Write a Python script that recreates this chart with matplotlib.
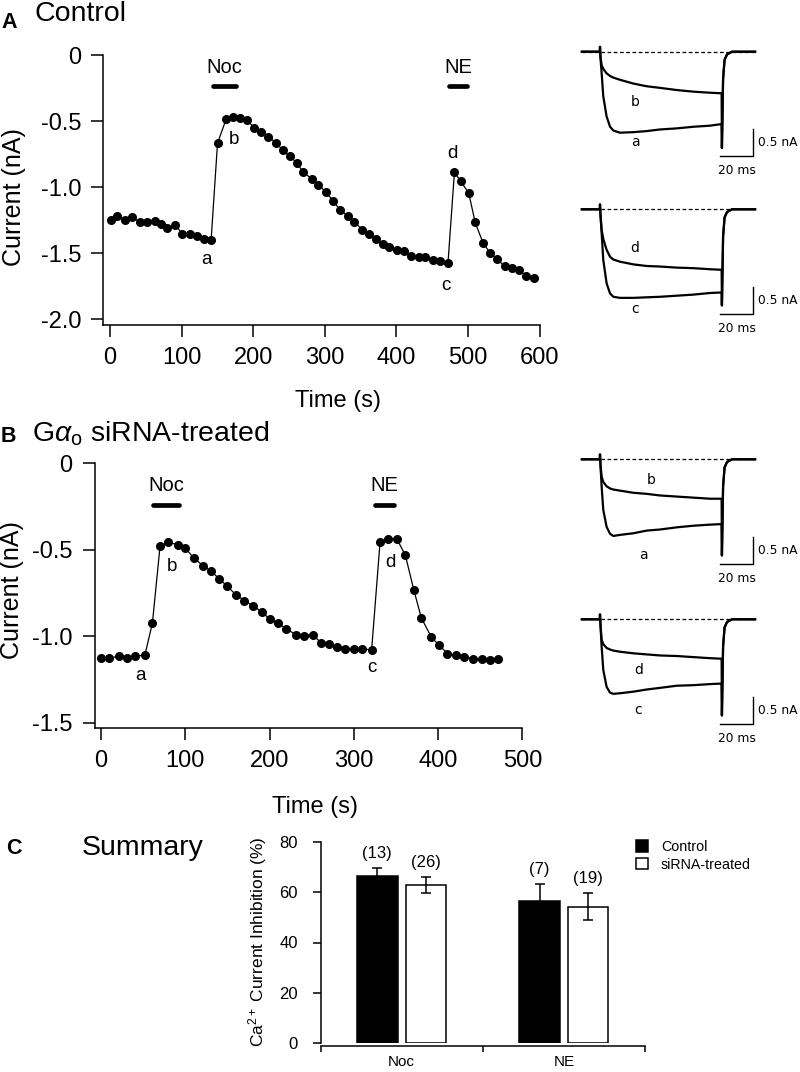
import numpy as np
import matplotlib
matplotlib.use('Agg')
import matplotlib.pyplot as plt

plt.rcParams['font.family'] = ['Liberation Sans', 'DejaVu Sans']
plt.rcParams['axes.unicode_minus'] = False
plt.rcParams['mathtext.fontset'] = 'custom'
plt.rcParams['mathtext.rm'] = 'Liberation Sans'
plt.rcParams['mathtext.it'] = 'Liberation Sans:italic'

# ── time course data (s, nA) ────────────────────────────────
ctrl_t = [1, 10, 21, 30, 41, 51, 62, 71, 80, 91, 101, 112, 121, 131, 141,
          150, 162, 171, 181, 191, 201, 211, 221, 232, 241, 251, 261, 270,
          282, 291, 302, 312, 321, 332, 341, 352, 361, 371, 381, 390, 401,
          411, 421, 431, 440, 451, 461, 472,
          481, 490, 501, 510, 521, 531, 541, 551, 561, 571, 581, 592]
ctrl_i = [-1.247, -1.217, -1.247, -1.229, -1.26, -1.26, -1.254, -1.28, -1.31,
          -1.285, -1.355, -1.355, -1.368, -1.39, -1.403,
          -0.667, -0.486, -0.466, -0.474, -0.491, -0.549, -0.584, -0.617,
          -0.667, -0.718, -0.763, -0.819, -0.889, -0.937, -0.982, -1.04,
          -1.108, -1.171, -1.217, -1.26, -1.322, -1.355, -1.39, -1.431,
          -1.456, -1.474, -1.486, -1.524, -1.532, -1.532, -1.549, -1.557,
          -1.574,
          -0.887, -0.957, -1.045, -1.267, -1.423, -1.499, -1.544, -1.6,
          -1.612, -1.625, -1.67, -1.688]

sirna_t = [0, 10, 21, 31, 40, 52, 61, 70, 80, 91, 100, 110, 121, 130, 140,
           150, 160, 170, 180, 191, 200, 210, 220, 231, 241, 251, 261, 270,
           280, 290, 300, 310, 321, 331, 341, 351, 361, 371, 380, 392, 401,
           411, 421, 431, 441, 452, 461, 471]
sirna_i = [-1.127, -1.127, -1.115, -1.127, -1.115, -1.11, -0.923, -0.481,
           -0.456, -0.471, -0.49, -0.548, -0.592, -0.621, -0.667, -0.712,
           -0.76, -0.794, -0.823, -0.86, -0.9, -0.923, -0.958, -0.99, -0.996,
           -0.99, -1.038, -1.044, -1.062, -1.071, -1.071, -1.071, -1.081,
           -0.456, -0.438, -0.438, -0.531, -0.731, -0.894, -1.006, -1.052,
           -1.1, -1.11, -1.119, -1.129, -1.129, -1.138, -1.129]

ctrl_yticks = [0, -0.5, -1.0, -1.5, -2.0]
ctrl_ylabels = ['0', '-0.5', '-1.0', '-1.5', '-2.0']
ctrl_xticks = [0, 100, 200, 300, 400, 500, 600]
sirna_yticks = [0, -0.5, -1.0, -1.5]
sirna_ylabels = ['0', '-0.5', '-1.0', '-1.5']
sirna_xticks = [0, 100, 200, 300, 400, 500]

# drug application windows (s)
ctrl_noc = (143, 176)
ctrl_ne = (474, 498)
sirna_noc = (62, 92)
sirna_ne = (325, 348)

# ── example current traces (ms, nA) ─────────────────────────
trace_t = [0.3, 1.0, 2.0, 4.0, 6.1, 8.1, 12.1, 20.2, 28.3, 36.4, 46.5, 56.6, 66.7, 73.7]
ctrl_a = [-0.12, -0.40, -0.83, -1.20, -1.39, -1.46, -1.50, -1.49, -1.47, -1.44, -1.42, -1.39, -1.37, -1.34]
ctrl_b = [-0.10, -0.25, -0.32, -0.40, -0.45, -0.48, -0.52, -0.59, -0.64, -0.67, -0.71, -0.74, -0.76, -0.77]
ctrl_c = [-0.12, -0.44, -0.94, -1.37, -1.56, -1.62, -1.64, -1.64, -1.63, -1.62, -1.60, -1.58, -1.55, -1.54]
ctrl_d = [-0.10, -0.38, -0.55, -0.75, -0.88, -0.93, -0.97, -1.02, -1.05, -1.06, -1.08, -1.09, -1.11, -1.12]
sirna_a = [-0.12, -0.51, -0.94, -1.25, -1.38, -1.42, -1.40, -1.37, -1.32, -1.30, -1.26, -1.23, -1.21, -1.20]
sirna_b = [-0.10, -0.32, -0.42, -0.50, -0.54, -0.56, -0.58, -0.62, -0.64, -0.67, -0.69, -0.71, -0.73, -0.73]
sirna_c = [-0.12, -0.51, -0.94, -1.25, -1.36, -1.38, -1.37, -1.34, -1.30, -1.27, -1.23, -1.22, -1.20, -1.19]
sirna_d = [-0.10, -0.38, -0.46, -0.53, -0.56, -0.58, -0.60, -0.63, -0.65, -0.67, -0.68, -0.70, -0.72, -0.73]
pre_t, pre_i = [-11, -0.1, 0], [0, 0, 0.09]
tail_t = [73.9, 74.6, 75.5, 77, 80, 94]
tail_i = [-1.78, -0.5, -0.15, -0.05, 0, 0]

# ── summary data ────────────────────────────────────────────
drugs = ['Noc', 'NE']
ctrl_mean = [66.5, 56.6]
ctrl_sem = [3.1, 6.6]
ctrl_n = [13, 7]
sirna_mean = [62.8, 54.2]
sirna_sem = [3.2, 5.4]
sirna_n = [26, 19]

W, H = 800, 1072
fig = plt.figure(figsize=(W / 100, H / 100), dpi=100)


def box(left, top, right, bottom):
    return [left / W, 1 - bottom / H, (right - left) / W, (bottom - top) / H]


def ftext(x, y, s, **kw):
    fig.text(x / W, 1 - y / H, s, **kw)


def time_course(rect, t, cur, xlim, ylim, xticks, yticks, ylabels):
    ax = fig.add_axes(box(*rect))
    ax.plot(t, cur, color='k', lw=0.9, marker='o', ms=5.5, zorder=3, clip_on=False)
    ax.set_xlim(*xlim)
    ax.set_ylim(*ylim)
    ax.set_xticks(xticks)
    ax.set_yticks(yticks)
    ax.set_yticklabels(ylabels)
    for s in ['top', 'right']:
        ax.spines[s].set_visible(False)
    for s in ['left', 'bottom']:
        ax.spines[s].set_linewidth(1.1)
    ax.tick_params(direction='out', length=8.3, width=1.1, labelsize=17, pad=7.5)
    return ax


def drug_bar(ax, span, y_bar, y_txt, name):
    ax.plot(span, [y_bar, y_bar], color='k', lw=3.4, solid_capstyle='round')
    ax.text(sum(span) / 2, y_txt, name, ha='center', va='center', fontsize=14.5)


def trace_panel(x0, base, traces, labels):
    px_ms, px_na = 1.65, 54.0
    ax = fig.add_axes(box(x0 - 12 * px_ms, base - 0.3 * px_na,
                          x0 + 118 * px_ms, base + 2.45 * px_na))
    ax.set_xlim(-12, 118)
    ax.set_ylim(-2.45, 0.3)
    ax.axis('off')
    ax.plot([-11, 94], [0, 0], color='k', lw=0.9, ls=(0, (3, 2)))
    for cur in traces:
        ax.plot(pre_t + trace_t + tail_t, pre_i + cur + tail_i,
                color='k', lw=1.6, solid_joinstyle='round')
    for (s, tx, ty) in labels:
        ax.text(tx, ty, s, ha='center', va='center', fontsize=10,
                family='DejaVu Sans')
    # scale bar: 20 ms x 0.5 nA
    ax.plot([73, 93, 93], [-1.93, -1.93, -1.43], color='k', lw=1.0)
    ax.text(96, -1.68, '0.5 nA', ha='left', va='center', fontsize=8.8,
            family='DejaVu Sans')
    ax.text(83, -2.2, '20 ms', ha='center', va='center', fontsize=8.8,
            family='DejaVu Sans')


# ── A: control ──────────────────────────────────────────────
axA = time_course((103.3, 55, 539.6, 324.6), ctrl_t, ctrl_i, (-9.6, 600),
                  (-2.04, 0), ctrl_xticks, ctrl_yticks, ctrl_ylabels)
drug_bar(axA, ctrl_noc, -0.232, -0.096, 'Noc')
drug_bar(axA, ctrl_ne, -0.232, -0.096, 'NE')
for s, tx, ty in [('a', 134, -1.546), ('b', 173, -0.643),
                  ('c', 469, -1.747), ('d', 478.6, -0.744)]:
    axA.text(tx, ty, s, ha='center', va='center', fontsize=13.5)
ftext(1, 28.5, 'A', fontsize=15.5, fontweight='bold', va='baseline')
ftext(34, 21, 'Control', fontsize=20.5, va='baseline')
ftext(14, 197, 'Current (nA)', fontsize=18, rotation=90, ha='center', va='center')
ftext(338, 401, 'Time (s)', fontsize=17, ha='center', va='center')

trace_panel(600, 51.7, [ctrl_a, ctrl_b], [('b', 21.2, -0.93), ('a', 21.2, -1.67)])
trace_panel(600, 209.3, [ctrl_c, ctrl_d], [('d', 21.2, -0.72), ('c', 21.2, -1.85)])

# ── B: Gao siRNA ────────────────────────────────────────────
axB = time_course((94.6, 463.3, 522.5, 727.9), sirna_t, sirna_i, (-7.6, 500),
                  (-1.53, 0), sirna_xticks, sirna_yticks, sirna_ylabels)
drug_bar(axB, sirna_noc, -0.243, -0.131, 'Noc')
drug_bar(axB, sirna_ne, -0.243, -0.131, 'NE')
for s, tx, ty in [('a', 47, -1.227), ('b', 84, -0.596),
                  ('c', 321, -1.183), ('d', 343, -0.573)]:
    axB.text(tx, ty, s, ha='center', va='center', fontsize=13.5)
ftext(1, 442, 'B', fontsize=15.5, fontweight='bold', va='baseline')
ftext(32, 442, r'G$\alpha_{\mathregular{o}}$ siRNA-treated', fontsize=20.5, va='baseline')
ftext(12.5, 590, 'Current (nA)', fontsize=18, rotation=90, ha='center', va='center')
ftext(315, 807.5, 'Time (s)', fontsize=17, ha='center', va='center')

trace_panel(600, 459.3, [sirna_a, sirna_b], [('b', 31.3, -0.38), ('a', 26.3, -1.77)])
trace_panel(600, 619.3, [sirna_c, sirna_d], [('d', 23.2, -0.94), ('c', 23.2, -1.68)])

# ── C: summary bars ─────────────────────────────────────────
axC = fig.add_axes(box(320.5, 841.7, 645, 1043.3))
xc = np.arange(len(drugs)) + 0.5
err_kw = dict(elinewidth=1.1, capsize=3.6, capthick=1.1, ecolor='k')
b1 = axC.bar(xc - 0.15, ctrl_mean, 0.25, yerr=ctrl_sem, color='k',
             edgecolor='k', lw=1.1, error_kw=err_kw, label='Control')
b2 = axC.bar(xc + 0.15, sirna_mean, 0.25, yerr=sirna_sem, color='white',
             edgecolor='k', lw=1.1, error_kw=err_kw, label='siRNA-treated')
for x, m, e, n in zip(xc - 0.15, ctrl_mean, ctrl_sem, ctrl_n):
    axC.text(x, m + e + 5.7, f'({n})', ha='center', va='center', fontsize=12)
for x, m, e, n in zip(xc + 0.15, sirna_mean, sirna_sem, sirna_n):
    axC.text(x, m + e + 5.7, f'({n})', ha='center', va='center', fontsize=12)
axC.set_xlim(0, 2)
axC.set_ylim(0, 80)
axC.set_yticks([0, 20, 40, 60, 80])
axC.set_xticks([0, 1, 2])
axC.set_xticklabels([])
axC.set_xticks(xc, minor=True)
axC.set_xticklabels(drugs, minor=True)
axC.tick_params(axis='x', which='major', direction='out', length=4.3, width=1.1)
axC.tick_params(axis='x', which='minor', length=0, labelsize=11, pad=6)
axC.tick_params(axis='y', direction='out', length=5.8, width=1.1, labelsize=12, pad=10.5)
for s in ['top', 'right']:
    axC.spines[s].set_visible(False)
for s in ['left', 'bottom']:
    axC.spines[s].set_linewidth(1.1)
axC.spines['bottom'].set_position(('outward', 2.2))
axC.legend(handles=[b1, b2], loc='upper left', bbox_to_anchor=(636 / W, 1 - 840 / H),
           bbox_transform=fig.transFigure, frameon=False, fontsize=10.3,
           handlelength=0.85, handleheight=0.85, handletextpad=0.9,
           labelspacing=0.25, borderpad=0, borderaxespad=0)
ftext(258, 942, 'Ca$^{2+}$ Current Inhibition (%)', fontsize=12.5, rotation=90,
      ha='center', va='center')
ftext(6, 854, 'C', fontsize=15.5, fontweight='bold', va='baseline')
ftext(81.6, 855, 'Summary', fontsize=20.5, va='baseline')

fig.savefig('out.png', dpi=100)
